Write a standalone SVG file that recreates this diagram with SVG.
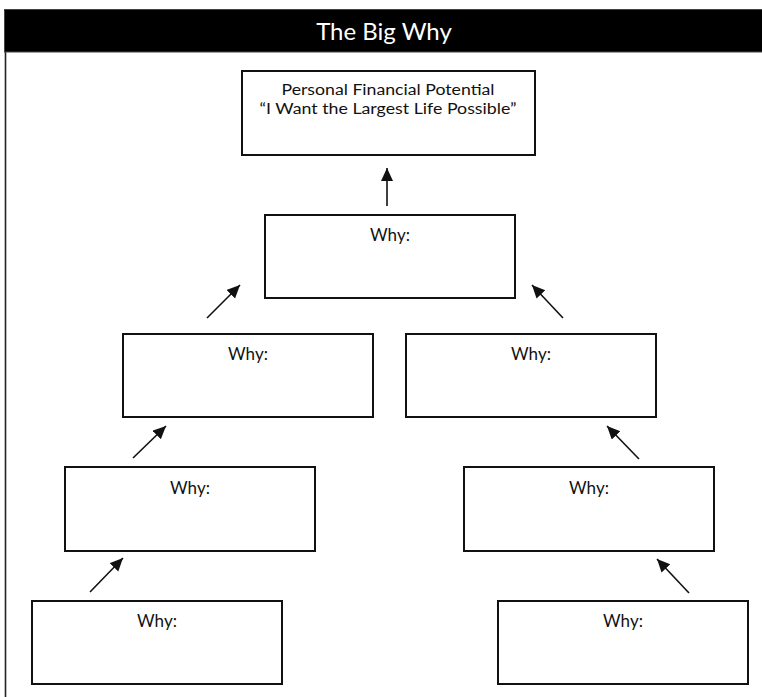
<svg xmlns="http://www.w3.org/2000/svg" width="762" height="697" viewBox="0 0 762 697">
<style>
.box{fill:#fff;stroke:#111;stroke-width:2}
.t{font-family:Lato,"Open Sans","Liberation Sans",sans-serif;font-size:17px;fill:#111;text-anchor:middle}
.s{font-family:Lato,"Open Sans","Liberation Sans",sans-serif;font-size:15.5px;fill:#111;text-anchor:middle}
.title{font-family:Lato,"Open Sans","Liberation Sans",sans-serif;font-size:24px;fill:#fff;text-anchor:middle}
.arr{stroke:#111;stroke-width:1.6;fill:none;marker-end:url(#ah)}
</style>
<defs>
<marker id="ah" markerUnits="userSpaceOnUse" markerWidth="16" markerHeight="14" refX="13" refY="6" orient="auto">
<path d="M0,0 L13,6 L0,12 Z" fill="#111"/>
</marker>
</defs>
<rect width="762" height="697" fill="#fff"/>
<g id="frame">
<line x1="5.5" y1="52" x2="5.5" y2="697" stroke="#222" stroke-width="1.6"/>
<rect x="4.5" y="9.5" width="758" height="42.5" fill="#000" stroke="#444" stroke-width="1"/>
<text class="title" x="384" y="40">The Big Why</text>
</g>
<g id="top">
<rect class="box" x="242" y="71" width="293" height="84"/>
<text class="s" x="388" y="95" textLength="213" lengthAdjust="spacingAndGlyphs">Personal Financial Potential</text>
<text class="s" x="388" y="114" textLength="257" lengthAdjust="spacingAndGlyphs">“I Want the Largest Life Possible”</text>
</g>
<g id="why1">
<rect class="box" x="265" y="215" width="250" height="83"/>
<text class="t" x="390" y="241">Why:</text>
</g>
<g id="why2l">
<rect class="box" x="123" y="334" width="250" height="83"/>
<text class="t" x="248" y="360">Why:</text>
</g>
<g id="why2r">
<rect class="box" x="406" y="334" width="250" height="83"/>
<text class="t" x="531" y="360">Why:</text>
</g>
<g id="why3l">
<rect class="box" x="65" y="467" width="250" height="84"/>
<text class="t" x="190" y="494">Why:</text>
</g>
<g id="why3r">
<rect class="box" x="464" y="467" width="250" height="84"/>
<text class="t" x="589" y="494">Why:</text>
</g>
<g id="why4l">
<rect class="box" x="32" y="601" width="250" height="83"/>
<text class="t" x="157" y="627">Why:</text>
</g>
<g id="why4r">
<rect class="box" x="498" y="601" width="250" height="83"/>
<text class="t" x="623" y="627">Why:</text>
</g>
<g id="connectors">
<line class="arr" x1="387" y1="206" x2="387" y2="168"/>
<line class="arr" x1="207" y1="318" x2="240" y2="285"/>
<line class="arr" x1="563" y1="318" x2="532" y2="285"/>
<line class="arr" x1="133" y1="458" x2="166" y2="426"/>
<line class="arr" x1="639" y1="459" x2="607" y2="426"/>
<line class="arr" x1="90" y1="592" x2="123" y2="558"/>
<line class="arr" x1="689" y1="593" x2="657" y2="559"/>
</g>
</svg>
